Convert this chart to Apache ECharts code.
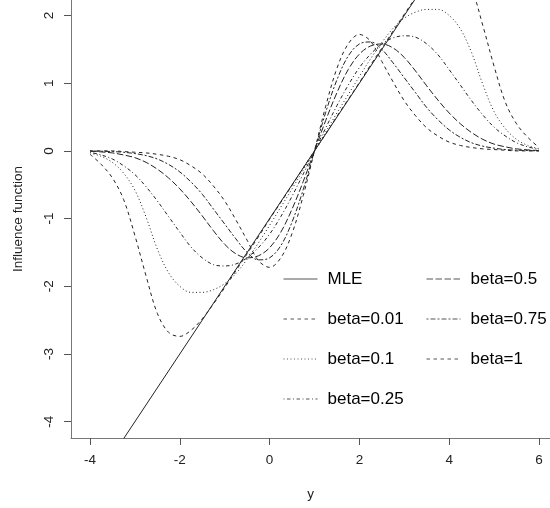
<!DOCTYPE html>
<html>
<head>
<meta charset="utf-8">
<script src="https://cdn.jsdelivr.net/npm/echarts@6/dist/echarts.min.js"></script>
<style>
html,body{margin:0;padding:0;background:#fff;}
#chart{width:550px;height:508px;}
</style>
</head>
<body>
<div id="chart"></div>
<script>
// x grid (y values of the observation)
var xs = [-4,-3.75,-3.5,-3.25,-3,-2.75,-2.5,-2.25,-2,-1.75,-1.5,-1.25,-1,-0.75,-0.5,-0.25,0,0.25,0.5,0.75,1,1.25,1.5,1.75,2,2.25,2.5,2.75,3,3.25,3.5,3.75,4,4.25,4.5,4.75,5,5.25,5.5,5.75,6];

var mleX = [-4, 6];
var mleY = [-5, 5];

var beta001 = [-0.05,-0.20,-0.40,-0.72,-1.25,-1.85,-2.40,-2.68,-2.74,-2.65,-2.48,-2.26,-2.02,-1.77,-1.52,-1.27,-1.01,-0.76,-0.51,-0.25,0,0.25,0.51,0.76,1.01,1.27,1.52,1.77,2.02,2.26,2.48,2.65,2.74,2.68,2.40,1.85,1.25,0.72,0.40,0.20,0.05];
var beta01 = [-0.03,-0.08,-0.17,-0.33,-0.58,-0.98,-1.45,-1.80,-2.00,-2.09,-2.09,-2.05,-1.96,-1.81,-1.60,-1.36,-1.10,-0.83,-0.56,-0.28,0,0.28,0.56,0.83,1.10,1.36,1.60,1.81,1.96,2.05,2.09,2.09,2.00,1.80,1.45,0.98,0.58,0.33,0.17,0.08,0.03];
var beta025 = [-0.02,-0.06,-0.12,-0.22,-0.35,-0.53,-0.74,-0.97,-1.20,-1.42,-1.58,-1.68,-1.70,-1.67,-1.58,-1.43,-1.23,-0.97,-0.67,-0.34,0,0.34,0.67,0.97,1.23,1.43,1.58,1.67,1.70,1.68,1.58,1.42,1.20,0.97,0.74,0.53,0.35,0.22,0.12,0.06,0.02];
var beta05 = [-0.005,-0.015,-0.03,-0.06,-0.10,-0.17,-0.27,-0.40,-0.56,-0.75,-0.96,-1.18,-1.38,-1.52,-1.58,-1.55,-1.43,-1.20,-0.86,-0.45,0,0.45,0.86,1.20,1.43,1.55,1.58,1.52,1.38,1.18,0.96,0.75,0.56,0.40,0.27,0.17,0.10,0.06,0.03,0.015,0.005];
var beta075 = [0,-0.005,-0.01,-0.02,-0.04,-0.07,-0.12,-0.20,-0.31,-0.46,-0.64,-0.86,-1.08,-1.30,-1.50,-1.61,-1.58,-1.40,-1.05,-0.57,0,0.57,1.05,1.40,1.58,1.61,1.50,1.30,1.08,0.86,0.64,0.46,0.31,0.20,0.12,0.07,0.04,0.02,0.01,0.005,0];
var beta1 = [0,0,0,-0.01,-0.02,-0.03,-0.05,-0.08,-0.13,-0.22,-0.34,-0.52,-0.74,-1.02,-1.32,-1.62,-1.72,-1.58,-1.22,-0.66,0,0.66,1.22,1.58,1.72,1.62,1.32,1.02,0.74,0.52,0.34,0.22,0.13,0.08,0.05,0.03,0.02,0.01,0,0,0];

var seriesNames = ['MLE','beta=0.01','beta=0.1','beta=0.25','beta=0.5','beta=0.75','beta=1'];
var xTicks = [-4,-2,0,2,4,6];
var yTicks = [-4,-3,-2,-1,0,1,2];

function pairs(x, y){ return x.map(function(v,i){ return [v, y[i]]; }); }

var dashes = {
  solid: 'solid',
  dashed: [3.5,3.5],
  dotted: [1,2.5],
  dotdash: [1,2.5,3.5,2.5],
  longdash: [6.5,2.5],
  twodash: [2,2,5,2]
};

var curveData = [pairs(mleX, mleY), pairs(xs, beta001), pairs(xs, beta01), pairs(xs, beta025), pairs(xs, beta05), pairs(xs, beta075), pairs(xs, beta1)];
var curveDash = [dashes.solid, dashes.dashed, dashes.dotted, dashes.dotdash, dashes.longdash, dashes.twodash, dashes.dashed];

var FONT = '"Liberation Sans", Arial, sans-serif';

var series = seriesNames.map(function(n, i){
  return {
    name: n,
    type: 'line',
    data: curveData[i],
    smooth: i === 0 ? false : 0.35,
    symbol: 'none',
    showSymbol: false,
    clip: true,
    animation: false,
    lineStyle: { color: '#222', width: 1, type: curveDash[i] },
    itemStyle: { color: '#222' }
  };
});

var legendCommon = {
  orient: 'vertical',
  itemWidth: 34,
  itemHeight: 20,
  itemGap: 20,
  itemStyle: { color: 'rgba(0,0,0,0)', borderWidth: 0, opacity: 0 },
  lineStyle: { width: 1, color: '#555' },
  textStyle: { fontSize: 17, fontFamily: FONT, color: '#000', lineHeight: 20, padding: [0,0,0,5] },
  selectedMode: false
};

var chart = echarts.init(document.getElementById('chart'), null, {renderer: 'canvas'});
chart.setOption({
  backgroundColor: '#fff',
  animation: false,
  grid: { left: 71, top: 0, width: 479, height: 438, containLabel: false },
  legend: [
    Object.assign({}, legendCommon, { data: seriesNames.slice(0,4), left: 278, top: 264 }),
    Object.assign({}, legendCommon, { data: seriesNames.slice(4), left: 421, top: 264 })
  ],
  xAxis: {
    type: 'value',
    min: -4.423, max: 6.245,
    name: 'y',
    nameLocation: 'middle',
    nameGap: 49,
    nameTextStyle: { fontSize: 13.5, fontFamily: FONT, color: '#222' },
    axisLine: { onZero: false, lineStyle: { color: '#777', width: 1 } },
    axisTick: { show: true, length: 7, lineStyle: { color: '#555' }, customValues: xTicks },
    axisLabel: { fontSize: 13.5, fontFamily: FONT, color: '#222', margin: 15, customValues: xTicks },
    splitLine: { show: false }
  },
  yAxis: {
    type: 'value',
    min: -4.241, max: 2.229,
    name: 'Influence function',
    nameLocation: 'middle',
    nameRotate: 90,
    nameGap: 46,
    nameTextStyle: { fontSize: 13.5, fontFamily: FONT, color: '#222' },
    axisLine: { onZero: false, lineStyle: { color: '#777', width: 1 } },
    axisTick: { show: true, length: 7, lineStyle: { color: '#555' }, customValues: yTicks },
    axisLabel: { fontSize: 13.5, fontFamily: FONT, color: '#222', margin: 15, rotate: 90, customValues: yTicks },
    splitLine: { show: false }
  },
  series: series
});
</script>
</body>
</html>
